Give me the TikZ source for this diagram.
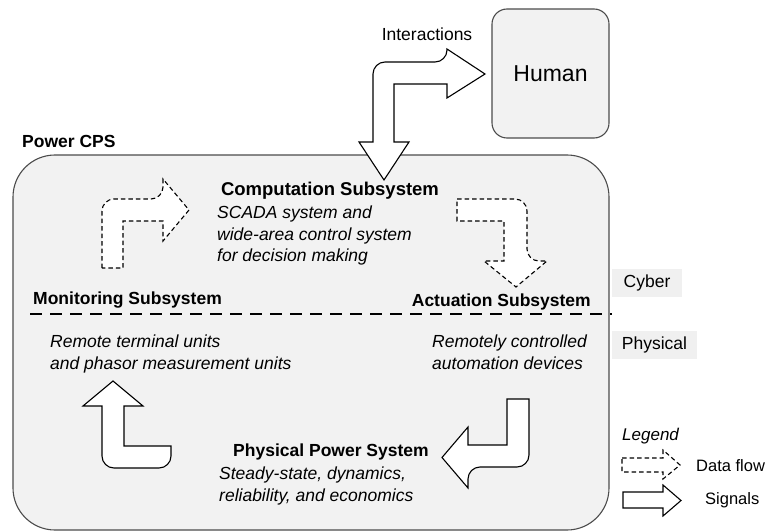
\documentclass[tikz,border=0pt]{standalone}
\usepackage{fontspec}
\setmainfont{Liberation Sans}
\begin{document}
\begin{tikzpicture}[x=1pt,y=-1pt,
  panel/.style={draw=black!70, line width=1.1pt, fill=black!5},
  solidarrow/.style={draw=black, line width=1.1pt, fill=white, line join=miter},
  dataarrow/.style={draw=black, line width=1.1pt, fill=white, dash pattern=on 4.5pt off 3pt},
  title/.style={font=\fontsize{17.5}{21}\selectfont\bfseries, inner sep=0pt},
  desc/.style={font=\fontsize{17.5}{21.5}\selectfont\itshape, align=left, inner sep=0pt},
  tag/.style={fill=black!6, font=\fontsize{17.5}{21}\selectfont, inner sep=0pt},
  plain/.style={font=\fontsize{17.5}{21}\selectfont, inner sep=0pt},
  legendtext/.style={font=\fontsize{16.5}{20}\selectfont, inner sep=0pt}]
\useasboundingbox (0,0) rectangle (768,532);

% outer system and human
\draw[panel, rounded corners=42pt] (13,155) rectangle (609,530);
\node[panel, rounded corners=15pt, minimum width=117pt, minimum height=129pt, inner sep=0pt,
      font=\fontsize{23}{27}\selectfont] (human) at (550.5,73.5) {Human};
\node[title, anchor=west] (cps) at (22,141) {Power CPS};
\node[plain] (inter) at (427,34) {Interactions};

% cyber / physical separator
\coordinate (sepL) at (30,314);
\coordinate (sepR) at (612,314);
\draw[line width=2.6pt, dash pattern=on 12pt off 8pt] (sepL) -- (sepR);
\node[tag, minimum width=70pt, minimum height=28pt] (cyber) at (647,283) {Cyber};
\node[tag, minimum width=85pt, minimum height=28pt] (phys) at (654.5,345) {Physical};

% interaction arrow between human and the CPS
\draw[solidarrow] (373,142) [rounded corners=12pt] -- (373,62) -- (447,62) [sharp corners]
  -- (447,49) -- (485,74) -- (447,98) -- (447,84) -- (394,84) -- (394,142)
  -- (409,142) -- (384,180) -- (359,142) -- cycle;

% subsystem titles and descriptions
\node[title, font=\fontsize{18.5}{22}\selectfont\bfseries] (comp) at (330,191) {Computation Subsystem};
\node[desc, anchor=north west] (compd) at (217,206) {SCADA system and\\wide-area control system\\for decision making};
\node[title, anchor=west] (mon) at (33,300) {Monitoring Subsystem};
\node[desc, anchor=north west] (mond) at (50,335) {Remote terminal units\\and phasor measurement units};
\node[title, anchor=east] (act) at (591,302) {Actuation Subsystem};
\node[desc, anchor=north west] (actd) at (432,335) {Remotely controlled\\automation devices};
\node[title] (pps) at (331,452) {Physical Power System};
\node[desc, anchor=north west] (ppsd) at (219,467) {Steady-state, dynamics,\\reliability, and economics};

% data flow arrows (cyber layer)
\draw[dataarrow] (102,268) [rounded corners=12pt] -- (102,199) -- (163,199) [sharp corners]
  -- (163,179) -- (189,210) -- (163,241) -- (163,221) -- (123,221) -- (123,268) -- cycle;
\draw[dataarrow] (457,199) [rounded corners=12pt] -- (527,199) -- (527,261) [sharp corners]
  -- (547,261) -- (516,287) -- (484,261) -- (504,261) -- (504,221) -- (457,221) -- cycle;

% signal arrows (physical layer)
\draw[solidarrow] (171,446) -- (124,446) -- (124,406) -- (143,406) -- (113,381) -- (83,406)
  -- (102,406) [rounded corners=12pt] -- (102,468) -- (171,468) [sharp corners] -- cycle;
\draw[solidarrow] (507,399) -- (529,399) [rounded corners=12pt] -- (529,467) -- (468,467)
  [sharp corners] -- (468,488) -- (442,457.5) -- (468,427) -- (468,445) -- (507,445) -- cycle;

% legend
\node[legendtext, font=\fontsize{17}{20}\selectfont\itshape, anchor=west] (leg) at (622,436) {Legend};
\draw[dataarrow] (622,458) -- (663,458) -- (663,450) -- (680,465) -- (663,479) -- (663,472)
  -- (622,472) -- cycle;
\node[legendtext, anchor=west] (ldata) at (696,466) {Data flow};
\draw[solidarrow] (623,492) -- (663,492) -- (663,485) -- (681,500.5) -- (663,516) -- (663,508)
  -- (623,508) -- cycle;
\node[legendtext, anchor=west] (lsig) at (705,500) {Signals};
\end{tikzpicture}
\end{document}
